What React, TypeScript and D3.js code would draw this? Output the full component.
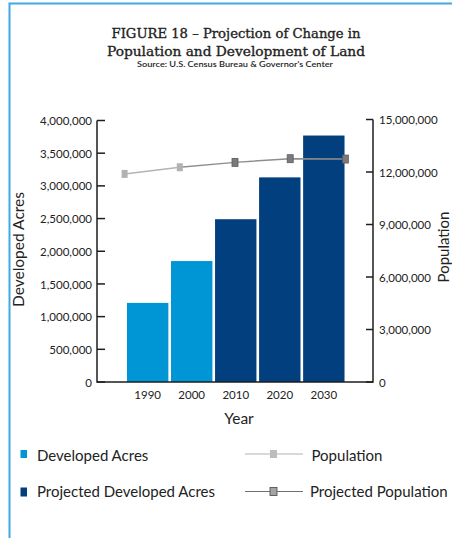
import React from 'react';
import * as d3 from 'd3';

const years = ['1990', '2000', '2010', '2020', '2030'];
const developedAcres = [1210000, 1850000, null, null, null];
const projectedAcres = [null, null, 2490000, 3130000, 3770000];
const population = [11890000, 12270000, null, null, null];
const projectedPopulation = [null, 12270000, 12550000, 12760000, 12740000];
const projectedPopulationMarkers = [null, null, 12550000, 12760000, 12740000];
const leftTicks = [0, 500000, 1000000, 1500000, 2000000, 2500000, 3000000, 3500000, 4000000];
const rightTicks = [0, 3000000, 6000000, 9000000, 12000000, 15000000];

const W = 452;
const H = 538;
const M = { left: 97, right: 373, top: 120.5, bottom: 382 };

const LIGHT_BLUE = '#0096d6';
const DARK_BLUE = '#023f7e';
const BORDER = '#3fa9e6';
const AXIS = '#1e1e1e';
const SANS = 'Lato, "Open Sans", sans-serif';
const SERIF = '"DejaVu Serif", serif';

const fmt = d3.format(',');

export default function App() {
  const xp = d3.scalePoint<string>().domain(years).range([M.left, M.right]).padding(0.5);
  const xb = d3
    .scaleBand<string>()
    .domain(years)
    .range([(xp(years[0]) as number) + 1.5, xp(years[years.length - 1]) as number])
    .paddingInner(0.06)
    .paddingOuter(0.02);
  const yL = d3.scaleLinear().domain([0, 4000000]).range([M.bottom, M.top]);
  const yR = d3.scaleLinear().domain([0, 15000000]).range([M.bottom, 119.5]);

  const lineGen = d3
    .line<number | null>()
    .defined((d) => d != null)
    .x((_, i) => xp(years[i]) as number)
    .y((d) => yR(d as number));

  const bars: { year: string; v: number; color: string }[] = [];
  years.forEach((yr, i) => {
    if (developedAcres[i] != null) bars.push({ year: yr, v: developedAcres[i] as number, color: LIGHT_BLUE });
    if (projectedAcres[i] != null) bars.push({ year: yr, v: projectedAcres[i] as number, color: DARK_BLUE });
  });

  const mw = 6;
  const mh = 8;

  return (
    <svg width={W} height={H} style={{ position: 'absolute', left: 0, top: 0, background: '#fff' }}>
      {/* border */}
      <path d={`M${9.5},${H} L${9.5},${3.5} L${W},${3.5}`} fill="none" stroke={BORDER} strokeWidth={2} />

      {/* title */}
      <text x={236} y={38} textAnchor="middle" fontFamily={SERIF} fontSize={13.5} fill="#222" stroke="#222" strokeWidth={0.35} textLength={249} lengthAdjust="spacingAndGlyphs">
        FIGURE 18 – Projection of Change in
      </text>
      <text x={236} y={55.5} textAnchor="middle" fontFamily={SERIF} fontSize={13.5} fill="#222" stroke="#222" strokeWidth={0.35} textLength={258} lengthAdjust="spacingAndGlyphs">
        Population and Development of Land
      </text>
      <text x={235} y={67} textAnchor="middle" fontFamily={SANS} fontSize={8} fontWeight={600} fill="#222" textLength={196} lengthAdjust="spacingAndGlyphs">
        Source: U.S. Census Bureau &amp; Governor's Center
      </text>

      {/* bars */}
      {bars.map((b) => (
        <rect
          key={b.year}
          x={xb(b.year)}
          width={xb.bandwidth()}
          y={yL(b.v)}
          height={yL(0) - yL(b.v)}
          fill={b.color}
        />
      ))}

      {/* population lines */}
      <path d={lineGen(population) || ''} fill="none" stroke="#b4b4b4" strokeWidth={1.5} />
      <path d={lineGen(projectedPopulation) || ''} fill="none" stroke="#8e8e8e" strokeWidth={1.5} />
      {population.map((v, i) =>
        v == null ? null : (
          <rect key={'p' + i} x={(xp(years[i]) as number) - mw / 2} y={yR(v) - mh / 2} width={mw} height={mh} fill="#b2b2b4" />
        )
      )}
      {projectedPopulationMarkers.map((v, i) =>
        v == null ? null : (
          <rect
            key={'pp' + i}
            x={(xp(years[i]) as number) - mw / 2}
            y={yR(v) - mh / 2}
            width={mw}
            height={mh}
            fill="#7a7a7c"
            stroke="#5c5c5e"
            strokeWidth={0.8}
          />
        )
      )}

      {/* axes */}
      <path d={`M${M.left},${M.top} L${M.left},${M.bottom} L${M.right},${M.bottom} L${M.right},${yR(15000000)}`} fill="none" stroke={AXIS} strokeWidth={1.5} />
      {leftTicks.map((t) => (
        <g key={'l' + t}>
          <line x1={M.left} x2={M.left + 8} y1={yL(t)} y2={yL(t)} stroke={AXIS} strokeWidth={1.5} />
          <text x={92} y={yL(t)} dy="0.4em" textAnchor="end" fontFamily={SANS} fontSize={11.5} fill="#222">
            {fmt(t)}
          </text>
        </g>
      ))}
      {rightTicks.map((t) => (
        <g key={'r' + t}>
          <line x1={M.right - 7} x2={M.right} y1={yR(t)} y2={yR(t)} stroke={AXIS} strokeWidth={1.5} />
          <text x={379} y={yR(t)} dy="0.4em" textAnchor="start" fontFamily={SANS} fontSize={11.5} fill="#222">
            {fmt(t)}
          </text>
        </g>
      ))}
      {years.map((yr) => (
        <text key={'x' + yr} x={(xb(yr) as number) + xb.bandwidth() / 2} y={399} textAnchor="middle" fontFamily={SANS} fontSize={11.5} fill="#222">
          {yr}
        </text>
      ))}

      {/* axis titles */}
      <text x={239} y={424} textAnchor="middle" fontFamily={SANS} fontSize={15.5} fill="#222">
        Year
      </text>
      <text transform={`translate(24,249.5) rotate(-90)`} textAnchor="middle" fontFamily={SANS} fontSize={15.5} fill="#222">
        Developed Acres
      </text>
      <text transform={`translate(449,247) rotate(-90)`} textAnchor="middle" fontFamily={SANS} fontSize={15} fill="#222">
        Population
      </text>

      {/* legend */}
      <rect x={20.5} y={450} width={6.5} height={8} fill={LIGHT_BLUE} />
      <text x={37} y={460.5} fontFamily={SANS} fontSize={15} fill="#222">Developed Acres</text>
      <rect x={20.5} y={487.5} width={6.5} height={9} fill={DARK_BLUE} />
      <text x={37} y={497} fontFamily={SANS} fontSize={15} fill="#222">Projected Developed Acres</text>

      <line x1={245} x2={303} y1={454} y2={454} stroke="#b4b4b4" strokeWidth={1.2} />
      <rect x={270} y={450} width={7} height={8} fill="#bcbcbe" />
      <text x={311.5} y={460.5} fontFamily={SANS} fontSize={15} fill="#222">Population</text>

      <line x1={245} x2={303} y1={491.5} y2={491.5} stroke="#707070" strokeWidth={1.2} />
      <rect x={270} y={487.5} width={7} height={8} fill="#a4a4a6" stroke="#555" strokeWidth={0.9} />
      <text x={310} y={497} fontFamily={SANS} fontSize={15} fill="#222">Projected Population</text>
    </svg>
  );
}
